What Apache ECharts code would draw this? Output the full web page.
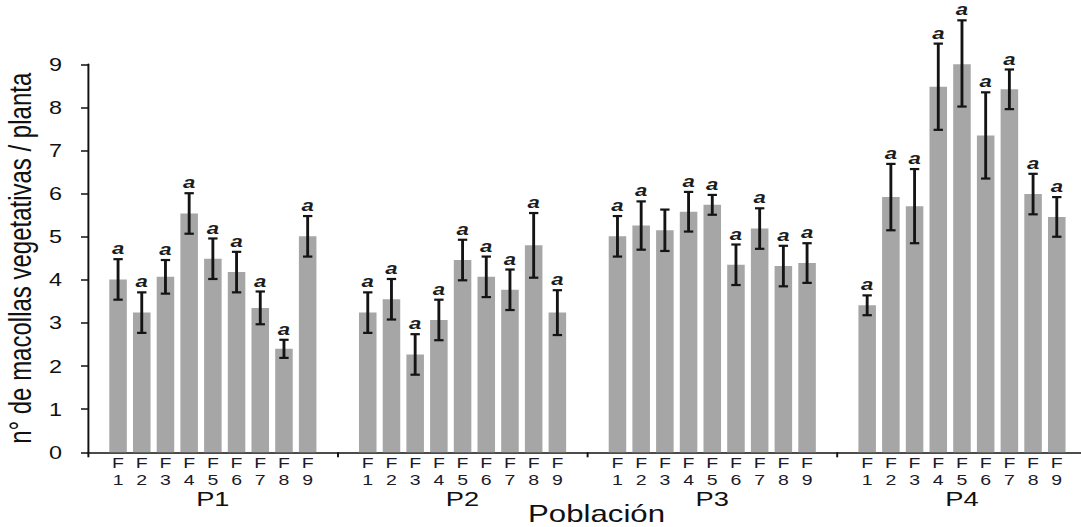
<!DOCTYPE html>
<html>
<head>
<meta charset="utf-8">
<script src="https://cdn.jsdelivr.net/npm/echarts@6/dist/echarts.min.js"></script>
<style>
  html, body { margin: 0; padding: 0; background: #fff; overflow: hidden; }
  /* the figure is drawn in a narrower box and widened horizontally */
  #chart { width: 831.5px; height: 527px; transform: scaleX(1.3); transform-origin: 0 0; }
</style>
</head>
<body>
<div id="chart"></div>
<script>
// Populations and plants (F1..F9) per population
const populations = ['P1', 'P2', 'P3', 'P4'];
const plants = ['F1', 'F2', 'F3', 'F4', 'F5', 'F6', 'F7', 'F8', 'F9'];

// mean number of vegetative tillers per plant
const meanP1 = [4.01, 3.24, 4.07, 5.54, 4.49, 4.18, 3.35, 2.40, 5.01];
const meanP2 = [3.24, 3.55, 2.27, 3.07, 4.46, 4.07, 3.77, 4.80, 3.24];
const meanP3 = [5.01, 5.26, 5.15, 5.58, 5.74, 4.35, 5.19, 4.32, 4.39];
const meanP4 = [3.41, 5.92, 5.71, 8.48, 9.02, 7.35, 8.42, 5.99, 5.46];

// standard error of each mean
const seP1 = [0.47, 0.47, 0.39, 0.47, 0.47, 0.47, 0.38, 0.21, 0.47];
const seP2 = [0.47, 0.47, 0.47, 0.47, 0.47, 0.47, 0.47, 0.75, 0.52];
const seP3 = [0.47, 0.56, 0.48, 0.46, 0.23, 0.47, 0.47, 0.47, 0.46];
const seP4 = [0.23, 0.77, 0.86, 1.00, 1.00, 1.00, 0.46, 0.47, 0.46];

// significance letters above each bar
const letP1 = ['a', 'a', 'a', 'a', 'a', 'a', 'a', 'a', 'a'];
const letP2 = ['a', 'a', 'a', 'a', 'a', 'a', 'a', 'a', 'a'];
const letP3 = ['a', 'a', '', 'a', 'a', 'a', 'a', 'a', 'a'];
const letP4 = ['a', 'a', 'a', 'a', 'a', 'a', 'a', 'a', 'a'];

const yTicks = [0, 1, 2, 3, 4, 5, 6, 7, 8, 9];

const means = [meanP1, meanP2, meanP3, meanP4];
const ses = [seP1, seP2, seP3, seP4];
const letters = [letP1, letP2, letP3, letP4];

const FONT = '"Liberation Sans", Arial, sans-serif';
const BAR = '#a6a6a6';
const INK = '#111111';

// layout (units inside the widened box)
const plotLeft = 67.7, plotTop = 64.3, plotH = 388;
const groupW = 192.08, innerPad = 14.0, innerW = groupW - 2 * innerPad;

const grids = [{ left: plotLeft, top: plotTop, width: groupW * 4, height: plotH, outerBoundsMode: 'none', containLabel: false }];
const xAxes = [{
  type: 'category', gridIndex: 0, data: populations, boundaryGap: true,
  axisLine: { lineStyle: { color: INK, width: 1.5 } },
  axisTick: { show: true, length: 5, lineStyle: { color: INK, width: 1.5 } },
  axisLabel: { fontFamily: FONT, fontSize: 21, lineHeight: 16, color: INK, margin: 38 },
  name: 'Población', nameLocation: 'middle', nameGap: 52, nameMoveOverlap: false,
  nameTextStyle: { fontFamily: FONT, fontSize: 24, lineHeight: 18, color: INK, padding: [0, 0, 0, 14], verticalAlign: 'top' }
}];
const yAxes = [{
  type: 'value', gridIndex: 0, min: yTicks[0], max: yTicks[yTicks.length - 1], interval: 1,
  axisLine: { show: true, lineStyle: { color: INK, width: 1.5 } },
  axisTick: { show: true, length: 5.4, lineStyle: { color: INK, width: 1.5 } },
  axisLabel: { fontFamily: FONT, fontSize: 18, color: INK, margin: 20 },
  splitLine: { show: false },
  name: 'n° de macollas vegetativas / planta', nameLocation: 'middle', nameGap: 40, nameMoveOverlap: false,
  nameTextStyle: { fontFamily: FONT, fontSize: 24, color: INK }
}];
const series = [];

populations.forEach((p, g) => {
  const gi = g + 1;
  grids.push({ left: plotLeft + g * groupW + innerPad, top: plotTop, width: innerW, height: plotH, outerBoundsMode: 'none', containLabel: false });
  xAxes.push({
    type: 'category', gridIndex: gi, data: plants, boundaryGap: true,
    axisLine: { show: false }, axisTick: { show: false },
    axisLabel: {
      fontFamily: FONT, fontSize: 15, lineHeight: 17, color: '#1a1a2a', margin: 2,
      formatter: v => v.charAt(0) + '\n' + v.slice(1)
    }
  });
  yAxes.push({ type: 'value', gridIndex: gi, min: 0, max: 9, interval: 1, show: false });

  series.push({
    type: 'bar', xAxisIndex: gi, yAxisIndex: gi, data: means[g],
    barWidth: '74%', itemStyle: { color: BAR }, z: 2, silent: true
  });

  series.push({
    type: 'custom', xAxisIndex: gi, yAxisIndex: gi, clip: false, z: 5, silent: true,
    data: means[g].map((m, i) => [i, m - ses[g][i], m + ses[g][i], letters[g][i]]),
    renderItem: function (params, api) {
      const i = api.value(0);
      const lo = api.coord([i, api.value(1)]);
      const hi = api.coord([i, api.value(2)]);
      const cap = 3.6;
      const st = { stroke: '#141414', lineWidth: 2.2 };
      const kids = [
        { type: 'line', shape: { x1: lo[0], y1: lo[1], x2: hi[0], y2: hi[1] }, style: st },
        { type: 'line', shape: { x1: hi[0] - cap, y1: hi[1], x2: hi[0] + cap, y2: hi[1] }, style: st },
        { type: 'line', shape: { x1: lo[0] - cap, y1: lo[1], x2: lo[0] + cap, y2: lo[1] }, style: st }
      ];
      const letter = letters[g][i];
      if (letter) {
        kids.push({
          type: 'text', x: hi[0], y: hi[1] - 11,
          style: {
            text: letter, fontFamily: FONT, fontSize: 17, fontWeight: 'bold', fontStyle: 'italic',
            fill: '#1c1c1c', align: 'center', verticalAlign: 'middle'
          }
        });
      }
      return { type: 'group', children: kids };
    }
  });
});

const chart = echarts.init(document.getElementById('chart'), null, { renderer: 'svg' });
chart.setOption({
  animation: false,
  backgroundColor: '#ffffff',
  grid: grids,
  xAxis: xAxes,
  yAxis: yAxes,
  series: series
});
</script>
</body>
</html>
